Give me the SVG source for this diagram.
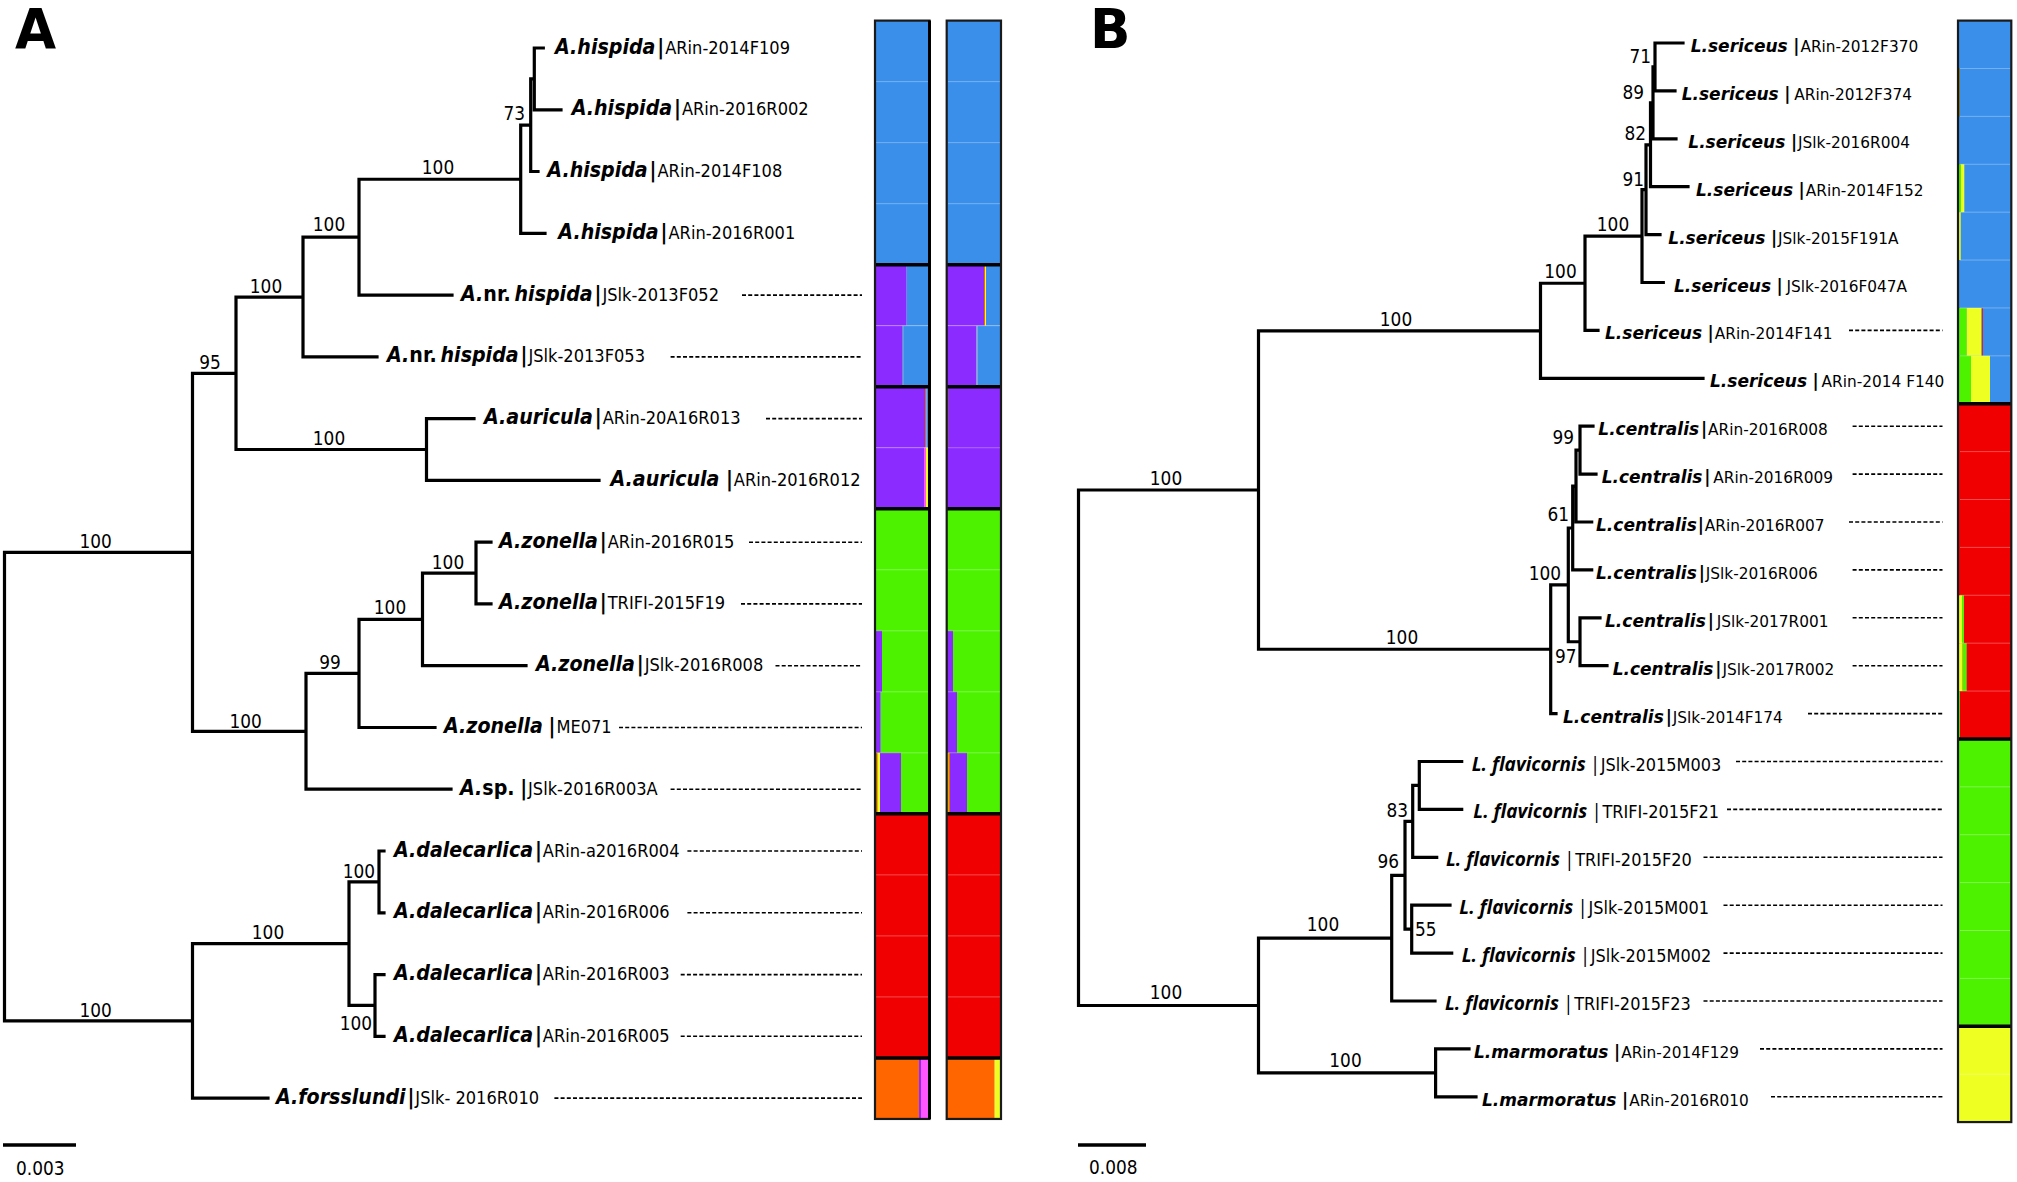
<svg xmlns="http://www.w3.org/2000/svg" width="2017" height="1182" viewBox="0 0 2017 1182">
<style>
.tr{fill:none;stroke:#000;stroke-width:3.2;stroke-linecap:square}
.sb{fill:none;stroke:#000;stroke-width:3.5}
.dash{fill:none;stroke:#000;stroke-width:1.6;stroke-dasharray:4 2.2}
text{font-family:"DejaVu Sans",sans-serif;fill:#000}
.la{font-size:17.5px}
.na{font-size:20.5px;font-weight:bold;font-style:italic}
.lb{font-size:16.5px}
.lf{font-size:17px}
.nb{font-size:18.3px;font-weight:bold;font-style:italic}
.up{font-style:normal}
.fn{font-family:"Open Sans","DejaVu Sans",sans-serif;font-size:20px;font-weight:bold;font-style:italic}
.fb{font-family:"Open Sans","DejaVu Sans",sans-serif;font-size:20px;font-style:italic}
.s{font-size:19.5px}
.pl{font-size:56px;font-weight:bold}
.bl{fill:#3A8FEA}.pu{fill:#8B2BFF}.gr{fill:#4CF200}.rd{fill:#F00000}.or{fill:#FF6600}.pk{fill:#FF55FF}.ye{fill:#EEFF22}.gy{fill:#7D82D8}.ol{fill:#8A7A20}.br{fill:#C86A3A}
.sep{stroke:#000;stroke-width:3.5}
.fine{stroke:#fff;stroke-opacity:.3;stroke-width:1}
.box{fill:none;stroke:#1a1a1a;stroke-width:2.2}
</style>

<!-- panel labels -->
<text class="pl" transform="translate(15,48) scale(.95,1)">A</text>
<text class="pl" transform="translate(1090,48) scale(.95,1)">B</text>

<!-- connectors -->
<g id="connectors">
<path class="tr" d="M4.5 552.3V1020.9M4.5 552.3H192.5M4.5 1020.9H192.5
M192.5 373.3V731.3M192.5 373.3H236M192.5 731.3H306
M236 297.05V449.5M236 297.05H303M236 449.5H426.5
M303 237.2V356.9M303 237.2H359M303 356.9H377
M359 179.25V295.1M359 179.25H520.7M359 295.1H452
M520.7 125.2V233.3M520.7 125.2H530.7M520.7 233.3H545
M530.7 78.9V171.5M530.7 78.9H534.3M530.7 171.5H538
M534.3 48V109.8M534.3 48H543.3M534.3 109.8H561
M426.5 418.6V480.4M426.5 418.6H474M426.5 480.4H599
M306 673.45V789.2M306 673.45H359M306 789.2H451
M359 619.4V727.5M359 619.4H422.5M359 727.5H435
M422.5 573.05V665.7M422.5 573.05H476M422.5 665.7H526
M476 542.2V603.9M476 542.2H491M476 603.9H491
M192.5 943.7V1098.1M192.5 943.7H349M192.5 1098.1H268
M349 881.9V1005.45M349 881.9H379M349 1005.45H375
M379 851V912.8M379 851H384M379 912.8H384
M375 974.6V1036.3M375 974.6H384M375 1036.3H384"/>
<path class="tr" d="M1078.5 490V1005.5M1078.5 490H1258.5M1078.5 1005.5H1258.5
M1258.5 330.8V649.25M1258.5 330.8H1540.5M1258.5 649.25H1550.7
M1540.5 283.25V378.3M1540.5 283.25H1585M1540.5 378.3H1703
M1585 236.1V330.4M1585 236.1H1642M1585 330.4H1598
M1642 189.7V282.5M1642 189.7H1646M1642 282.5H1663.3
M1646 144.8V234.6M1646 144.8H1650.5M1646 234.6H1660
M1650.5 102.9V186.7M1650.5 102.9H1653M1650.5 186.7H1688
M1653 66.95V138.8M1653 66.95H1655M1653 138.8H1676
M1655 43V90.9M1655 43H1683M1655 90.9H1675
M1550.7 584.9V713.6M1550.7 584.9H1568.3M1550.7 713.6H1556
M1568.3 528V641.75M1568.3 528H1572.7M1568.3 641.75H1580
M1580 617.8V665.7M1580 617.8H1600M1580 665.7H1607
M1572.7 486.1V569.9M1572.7 486.1H1576M1572.7 569.9H1591.7
M1576 450.15V522M1576 450.15H1580M1576 522H1591.7
M1580 426.2V474.1M1580 426.2H1593M1580 474.1H1596
M1258.5 938.15V1072.85M1258.5 938.15H1391.7M1258.5 1072.85H1435.6
M1391.7 875.3V1001M1391.7 875.3H1405M1391.7 1001H1435
M1405 821.4V929.15M1405 821.4H1412.7M1405 929.15H1411.7
M1412.7 785.45V857.3M1412.7 785.45H1419.3M1412.7 857.3H1436.7
M1419.3 761.5V809.4M1419.3 761.5H1461.7M1419.3 809.4H1461.7
M1411.7 905.2V953.1M1411.7 905.2H1450M1411.7 953.1H1451.7
M1435.6 1048.9V1096.8M1435.6 1048.9H1469M1435.6 1096.8H1476"/>
<path class="dash" d="M742 295.1H862M670.6 356.9H862M766 418.6H862M749 542.2H862M741 603.9H862M775.5 665.7H862M619 727.5H862M670.6 789.2H862M687.4 851H862M687.4 912.8H862M680.7 974.6H862M680.7 1036.3H862M554.4 1098.1H862"/>
<path class="dash" d="M1849 330.4H1942.5M1852.6 426.2H1942.5M1852.6 474.1H1942.5M1849 522H1942.5M1852.6 569.9H1942.5M1852.6 617.8H1942.5M1852.6 665.7H1942.5M1808 713.6H1942.5M1736 761.5H1942.5M1727 809.4H1942.5M1703.5 857.3H1942.5M1723.5 905.2H1942.5M1723.5 953.1H1942.5M1703.5 1001H1942.5M1760 1048.9H1942.5M1771 1096.8H1942.5"/>
</g>

<!-- support values -->
<g id="support">
<text class="s" text-anchor="end" transform="translate(525,120) scale(.87,1)">73</text>
<text class="s" text-anchor="middle" transform="translate(438,174) scale(.87,1)">100</text>
<text class="s" text-anchor="middle" transform="translate(329,231) scale(.87,1)">100</text>
<text class="s" text-anchor="middle" transform="translate(266,293) scale(.87,1)">100</text>
<text class="s" text-anchor="middle" transform="translate(210,369) scale(.87,1)">95</text>
<text class="s" text-anchor="middle" transform="translate(329,445) scale(.87,1)">100</text>
<text class="s" text-anchor="middle" transform="translate(95.7,547.5) scale(.87,1)">100</text>
<text class="s" text-anchor="middle" transform="translate(448,569) scale(.87,1)">100</text>
<text class="s" text-anchor="middle" transform="translate(390,614) scale(.87,1)">100</text>
<text class="s" text-anchor="middle" transform="translate(330,669) scale(.87,1)">99</text>
<text class="s" text-anchor="middle" transform="translate(245.6,728) scale(.87,1)">100</text>
<text class="s" text-anchor="end" transform="translate(375,878) scale(.87,1)">100</text>
<text class="s" text-anchor="middle" transform="translate(268,939) scale(.87,1)">100</text>
<text class="s" text-anchor="end" transform="translate(372,1030) scale(.87,1)">100</text>
<text class="s" text-anchor="middle" transform="translate(95.7,1017) scale(.87,1)">100</text>
<text class="s" text-anchor="end" transform="translate(1651,63.3) scale(.87,1)">71</text>
<text class="s" text-anchor="end" transform="translate(1644,99) scale(.87,1)">89</text>
<text class="s" text-anchor="end" transform="translate(1646,140) scale(.87,1)">82</text>
<text class="s" text-anchor="end" transform="translate(1644,186) scale(.87,1)">91</text>
<text class="s" text-anchor="middle" transform="translate(1613,231) scale(.87,1)">100</text>
<text class="s" text-anchor="middle" transform="translate(1560.5,278) scale(.87,1)">100</text>
<text class="s" text-anchor="middle" transform="translate(1396,325.5) scale(.87,1)">100</text>
<text class="s" text-anchor="middle" transform="translate(1166,485) scale(.87,1)">100</text>
<text class="s" text-anchor="end" transform="translate(1574,444) scale(.87,1)">99</text>
<text class="s" text-anchor="end" transform="translate(1569,521) scale(.87,1)">61</text>
<text class="s" text-anchor="end" transform="translate(1561,580) scale(.87,1)">100</text>
<text class="s" transform="translate(1555,663) scale(.87,1)">97</text>
<text class="s" text-anchor="middle" transform="translate(1402,644) scale(.87,1)">100</text>
<text class="s" text-anchor="end" transform="translate(1408,817) scale(.87,1)">83</text>
<text class="s" text-anchor="end" transform="translate(1399,868) scale(.87,1)">96</text>
<text class="s" transform="translate(1415,936) scale(.87,1)">55</text>
<text class="s" text-anchor="middle" transform="translate(1323,931) scale(.87,1)">100</text>
<text class="s" text-anchor="middle" transform="translate(1345.5,1067) scale(.87,1)">100</text>
<text class="s" text-anchor="middle" transform="translate(1166,999) scale(.87,1)">100</text>
</g>

<!-- scale bars -->
<g id="scaleA"><path class="sb" d="M3 1145H76"/><text class="s" transform="translate(16,1175) scale(.87,1)">0.003</text></g>
<g id="scaleB"><path class="sb" d="M1078 1145H1146"/><text class="s" transform="translate(1089,1174) scale(.87,1)">0.008</text></g>

<!-- panel A leaves -->
<g id="a0"><text transform="translate(555,53.5) scale(.93,1)"><tspan class="na">A.hispida</tspan><tspan class="na" dx="2">|</tspan><tspan class="la" dx="1">ARin-2014F109</tspan></text></g>
<g id="a1"><text transform="translate(571.7,115.3) scale(.93,1)"><tspan class="na">A.hispida</tspan><tspan class="na" dx="2">|</tspan><tspan class="la" dx="1">ARin-2016R002</tspan></text></g>
<g id="a2"><text transform="translate(547.3,177) scale(.93,1)"><tspan class="na">A.hispida</tspan><tspan class="na" dx="2">|</tspan><tspan class="la" dx="1">ARin-2014F108</tspan></text></g>
<g id="a3"><text transform="translate(558.3,238.8) scale(.93,1)"><tspan class="na">A.hispida</tspan><tspan class="na" dx="2">|</tspan><tspan class="la" dx="1">ARin-2016R001</tspan></text></g>
<g id="a4"><text transform="translate(461,300.6) scale(.93,1)"><tspan class="na">A.</tspan><tspan class="na up">nr.</tspan><tspan class="na" dx="4">hispida</tspan><tspan class="na" dx="2">|</tspan><tspan class="la" dx="1">JSlk-2013F052</tspan></text></g>
<g id="a5"><text transform="translate(387,362.4) scale(.93,1)"><tspan class="na">A.</tspan><tspan class="na up">nr.</tspan><tspan class="na" dx="4">hispida</tspan><tspan class="na" dx="2">|</tspan><tspan class="la" dx="1">JSlk-2013F053</tspan></text></g>
<g id="a6"><text transform="translate(484,424.1) scale(.93,1)"><tspan class="na">A.auricula</tspan><tspan class="na" dx="2">|</tspan><tspan class="la" dx="1">ARin-20A16R013</tspan></text></g>
<g id="a7"><text transform="translate(610.5,485.9) scale(.93,1)"><tspan class="na">A.auricula</tspan><tspan class="na" dx="7">|</tspan><tspan class="la" dx="1">ARin-2016R012</tspan></text></g>
<g id="a8"><text transform="translate(499,547.7) scale(.93,1)"><tspan class="na">A.zonella</tspan><tspan class="na" dx="2">|</tspan><tspan class="la" dx="1">ARin-2016R015</tspan></text></g>
<g id="a9"><text transform="translate(499,609.4) scale(.93,1)"><tspan class="na">A.zonella</tspan><tspan class="na" dx="2">|</tspan><tspan class="la" dx="1">TRIFI-2015F19</tspan></text></g>
<g id="a10"><text transform="translate(536,671.2) scale(.93,1)"><tspan class="na">A.zonella</tspan><tspan class="na" dx="2">|</tspan><tspan class="la" dx="1">JSlk-2016R008</tspan></text></g>
<g id="a11"><text transform="translate(444,733) scale(.93,1)"><tspan class="na">A.zonella</tspan><tspan class="na" dx="6">|</tspan><tspan class="la" dx="1">ME071</tspan></text></g>
<g id="a12"><text transform="translate(460,794.7) scale(.93,1)"><tspan class="na">A.</tspan><tspan class="na up">sp.</tspan><tspan class="na" dx="6">|</tspan><tspan class="la" dx="1">JSlk-2016R003A</tspan></text></g>
<g id="a13"><text transform="translate(394,856.5) scale(.93,1)"><tspan class="na">A.dalecarlica</tspan><tspan class="na" dx="2">|</tspan><tspan class="la" dx="1">ARin-a2016R004</tspan></text></g>
<g id="a14"><text transform="translate(394,918.3) scale(.93,1)"><tspan class="na">A.dalecarlica</tspan><tspan class="na" dx="2">|</tspan><tspan class="la" dx="1">ARin-2016R006</tspan></text></g>
<g id="a15"><text transform="translate(394,980.1) scale(.93,1)"><tspan class="na">A.dalecarlica</tspan><tspan class="na" dx="2">|</tspan><tspan class="la" dx="1">ARin-2016R003</tspan></text></g>
<g id="a16"><text transform="translate(394,1041.8) scale(.93,1)"><tspan class="na">A.dalecarlica</tspan><tspan class="na" dx="2">|</tspan><tspan class="la" dx="1">ARin-2016R005</tspan></text></g>
<g id="a17"><text transform="translate(276,1103.6) scale(.93,1)"><tspan class="na">A.forsslundi</tspan><tspan class="na" dx="2">|</tspan><tspan class="la" dx="1">JSlk- 2016R010</tspan></text></g>

<!-- panel B leaves -->
<g id="b0"><text transform="translate(1690.7,52) scale(.93,1)"><tspan class="nb">L.sericeus</tspan><tspan class="nb" dx="6">|</tspan><tspan class="lb" dx="1">ARin-2012F370</tspan></text></g>
<g id="b1"><text transform="translate(1681.7,99.9) scale(.93,1)"><tspan class="nb">L.sericeus</tspan><tspan class="nb" dx="6">|</tspan><tspan class="lb" dx="4">ARin-2012F374</tspan></text></g>
<g id="b2"><text transform="translate(1688.3,147.8) scale(.93,1)"><tspan class="nb">L.sericeus</tspan><tspan class="nb" dx="6">|</tspan><tspan class="lb" dx="1">JSlk-2016R004</tspan></text></g>
<g id="b3"><text transform="translate(1696,195.7) scale(.93,1)"><tspan class="nb">L.sericeus</tspan><tspan class="nb" dx="6">|</tspan><tspan class="lb" dx="1">ARin-2014F152</tspan></text></g>
<g id="b4"><text transform="translate(1668.3,243.6) scale(.93,1)"><tspan class="nb">L.sericeus</tspan><tspan class="nb" dx="6">|</tspan><tspan class="lb" dx="1">JSlk-2015F191A</tspan></text></g>
<g id="b5"><text transform="translate(1674,291.5) scale(.93,1)"><tspan class="nb">L.sericeus</tspan><tspan class="nb" dx="6">|</tspan><tspan class="lb" dx="4">JSlk-2016F047A</tspan></text></g>
<g id="b6"><text transform="translate(1605,339.4) scale(.93,1)"><tspan class="nb">L.sericeus</tspan><tspan class="nb" dx="6">|</tspan><tspan class="lb" dx="1">ARin-2014F141</tspan></text></g>
<g id="b7"><text transform="translate(1710,387.3) scale(.93,1)"><tspan class="nb">L.sericeus</tspan><tspan class="nb" dx="6">|</tspan><tspan class="lb" dx="3">ARin-2014 F140</tspan></text></g>
<g id="b8"><text transform="translate(1598.3,435.2) scale(.93,1)"><tspan class="nb">L.centralis</tspan><tspan class="nb" dx="2">|</tspan><tspan class="lb" dx="1">ARin-2016R008</tspan></text></g>
<g id="b9"><text transform="translate(1601.7,483.1) scale(.93,1)"><tspan class="nb">L.centralis</tspan><tspan class="nb" dx="2">|</tspan><tspan class="lb" dx="3">ARin-2016R009</tspan></text></g>
<g id="b10"><text transform="translate(1596,531) scale(.93,1)"><tspan class="nb">L.centralis</tspan><tspan class="nb" dx="1">|</tspan><tspan class="lb" dx="1">ARin-2016R007</tspan></text></g>
<g id="b11"><text transform="translate(1596,578.9) scale(.93,1)"><tspan class="nb">L.centralis</tspan><tspan class="nb" dx="2">|</tspan><tspan class="lb" dx="1">JSlk-2016R006</tspan></text></g>
<g id="b12"><text transform="translate(1605,626.8) scale(.93,1)"><tspan class="nb">L.centralis</tspan><tspan class="nb" dx="2">|</tspan><tspan class="lb" dx="3">JSlk-2017R001</tspan></text></g>
<g id="b13"><text transform="translate(1612.7,674.7) scale(.93,1)"><tspan class="nb">L.centralis</tspan><tspan class="nb" dx="2">|</tspan><tspan class="lb" dx="1">JSlk-2017R002</tspan></text></g>
<g id="b14"><text transform="translate(1563,722.6) scale(.93,1)"><tspan class="nb">L.centralis</tspan><tspan class="nb" dx="2">|</tspan><tspan class="lb" dx="1">JSlk-2014F174</tspan></text></g>
<g id="b15"><text transform="translate(1471.7,770.5) scale(.95,1)"><tspan class="fn">L. flavicornis</tspan><tspan class="fb" dx="4">|</tspan><tspan class="lf" dx="1">JSlk-2015M003</tspan></text></g>
<g id="b16"><text transform="translate(1473.3,818.4) scale(.95,1)"><tspan class="fn">L. flavicornis</tspan><tspan class="fb" dx="4">|</tspan><tspan class="lf" dx="1">TRIFI-2015F21</tspan></text></g>
<g id="b17"><text transform="translate(1446,866.3) scale(.95,1)"><tspan class="fn">L. flavicornis</tspan><tspan class="fb" dx="4">|</tspan><tspan class="lf" dx="1">TRIFI-2015F20</tspan></text></g>
<g id="b18"><text transform="translate(1459.3,914.2) scale(.95,1)"><tspan class="fn">L. flavicornis</tspan><tspan class="fb" dx="4">|</tspan><tspan class="lf" dx="1">JSlk-2015M001</tspan></text></g>
<g id="b19"><text transform="translate(1461.7,962.1) scale(.95,1)"><tspan class="fn">L. flavicornis</tspan><tspan class="fb" dx="4">|</tspan><tspan class="lf" dx="1">JSlk-2015M002</tspan></text></g>
<g id="b20"><text transform="translate(1445,1010) scale(.95,1)"><tspan class="fn">L. flavicornis</tspan><tspan class="fb" dx="4">|</tspan><tspan class="lf" dx="1">TRIFI-2015F23</tspan></text></g>
<g id="b21"><text transform="translate(1474,1057.9) scale(.93,1)"><tspan class="nb">L.marmoratus</tspan><tspan class="nb" dx="6">|</tspan><tspan class="lb" dx="1">ARin-2014F129</tspan></text></g>
<g id="b22"><text transform="translate(1482,1105.8) scale(.93,1)"><tspan class="nb">L.marmoratus</tspan><tspan class="nb" dx="6">|</tspan><tspan class="lb" dx="1">ARin-2016R010</tspan></text></g>

<!-- bar A1 -->
<g id="barA1">
<rect class="bl" x="875" y="20.6" width="54.5" height="244.08"/>
<rect class="pu" x="875" y="264.68" width="31.7" height="61.02"/><rect class="bl" x="906.7" y="264.68" width="22.8" height="61.02"/>
<rect class="pu" x="875" y="325.7" width="27" height="61.02"/><rect class="gy" x="902" y="325.7" width="1.2" height="61.02"/><rect class="bl" x="903.2" y="325.7" width="26.3" height="61.02"/>
<rect class="pu" x="875" y="386.72" width="50" height="61.02"/><rect class="br" x="925" y="386.72" width="1.5" height="61.02"/><rect class="bl" x="926.5" y="386.72" width="3" height="61.02"/>
<rect class="pu" x="875" y="447.74" width="49" height="61.02"/><rect class="pk" x="924" y="447.74" width="2" height="61.02"/><rect class="ye" x="926" y="447.74" width="2.5" height="61.02"/><rect class="or" x="928.5" y="447.74" width="1" height="61.02"/>
<rect class="gr" x="875" y="508.76" width="54.5" height="305.1"/>
<rect class="pu" x="875" y="630.8" width="7" height="61.02"/>
<rect class="pu" x="875" y="691.82" width="5" height="61.02"/><rect class="gy" x="880" y="691.82" width="1" height="61.02"/>
<rect class="or" x="875" y="752.84" width="1.5" height="61.02"/><rect class="rd" x="876.5" y="752.84" width="1" height="61.02"/><rect class="ye" x="877.5" y="752.84" width="2.5" height="61.02"/><rect class="pu" x="880" y="752.84" width="21" height="61.02"/>
<rect class="rd" x="875" y="813.86" width="54.5" height="244.08"/>
<rect class="or" x="875" y="1057.94" width="44" height="61.02"/><rect class="pu" x="919" y="1057.94" width="2" height="61.02"/><rect class="pk" x="921" y="1057.94" width="8.5" height="61.02"/>
<path class="fine" d="M876 81.62H929M876 142.64H929M876 203.66H929M876 325.7H929M876 447.74H929M876 569.78H929M876 630.8H929M876 691.82H929M876 752.84H929M876 874.88H929M876 935.9H929M876 996.92H929"/>
<path class="sep" d="M875 264.68H929.5M875 386.72H929.5M875 508.76H929.5M875 813.86H929.5M875 1057.94H929.5"/>
<rect class="box" x="875" y="20.6" width="54.5" height="1098.36"/>
<path d="M929.5 20.6V1119" stroke="#000" stroke-width="3"/>
</g>

<!-- bar A2 -->
<g id="barA2">
<rect class="bl" x="946.7" y="20.6" width="54.3" height="244.08"/>
<rect class="pu" x="946.7" y="264.68" width="37.3" height="61.02"/><rect class="or" x="984" y="264.68" width="1" height="61.02"/><rect class="ye" x="985" y="264.68" width="1" height="61.02"/><rect class="bl" x="986" y="264.68" width="15" height="61.02"/>
<rect class="pu" x="946.7" y="325.7" width="29.6" height="61.02"/><rect class="gy" x="976.3" y="325.7" width="1.3" height="61.02"/><rect class="bl" x="977.6" y="325.7" width="23.4" height="61.02"/>
<rect class="pu" x="946.7" y="386.72" width="54.3" height="122.04"/><rect class="ol" x="946.7" y="386.72" width="1.6" height="61.02"/>
<rect class="gr" x="946.7" y="508.76" width="54.3" height="305.1"/>
<rect class="pu" x="946.7" y="630.8" width="6.3" height="61.02"/>
<rect class="pu" x="946.7" y="691.82" width="10.3" height="61.02"/>
<rect class="ye" x="946.7" y="752.84" width="1.8" height="61.02"/><rect class="or" x="948.5" y="752.84" width="1.5" height="61.02"/><rect class="pu" x="950" y="752.84" width="17" height="61.02"/>
<rect class="rd" x="946.7" y="813.86" width="54.3" height="244.08"/>
<rect class="or" x="946.7" y="1057.94" width="48" height="61.02"/><rect class="ye" x="994.7" y="1057.94" width="6.3" height="61.02"/>
<path class="fine" d="M948 81.62H1000M948 142.64H1000M948 203.66H1000M948 325.7H1000M948 447.74H1000M948 569.78H1000M948 630.8H1000M948 691.82H1000M948 752.84H1000M948 874.88H1000M948 935.9H1000M948 996.92H1000"/>
<path class="sep" d="M946.7 264.68H1001M946.7 386.72H1001M946.7 508.76H1001M946.7 813.86H1001M946.7 1057.94H1001"/>
<rect class="box" x="946.7" y="20.6" width="54.3" height="1098.36"/>
</g>

<!-- bar B -->
<g id="barB">
<rect class="bl" x="1959" y="20.6" width="52.3" height="383.12"/>
<rect class="ol" x="1959" y="68.49" width="1" height="47.89"/>
<rect class="gr" x="1959" y="164.27" width="2" height="47.89"/><rect class="ye" x="1961" y="164.27" width="3.3" height="47.89"/>
<rect class="ye" x="1959" y="212.16" width="1.7" height="47.89"/>
<rect class="gr" x="1959" y="307.94" width="7.7" height="47.89"/><rect class="ye" x="1966.7" y="307.94" width="15" height="47.89"/><rect class="rd" x="1981.7" y="307.94" width="1" height="47.89"/>
<rect class="gr" x="1959" y="355.83" width="12" height="47.89"/><rect class="ye" x="1971" y="355.83" width="19" height="47.89"/>
<rect class="rd" x="1959" y="403.72" width="52.3" height="335.23"/>
<rect class="ye" x="1959" y="595.28" width="3" height="47.89"/><rect class="gr" x="1962" y="595.28" width="2" height="47.89"/>
<rect class="ye" x="1959" y="643.17" width="3.7" height="47.89"/><rect class="gr" x="1962.7" y="643.17" width="4" height="47.89"/>
<rect class="gr" x="1959" y="691.06" width="1" height="47.89"/>
<rect class="gr" x="1959" y="738.95" width="52.3" height="287.34"/>
<rect class="ye" x="1959" y="1026.29" width="52.3" height="95.78"/>
<path class="fine" d="M1960 68.49H2010M1960 116.38H2010M1960 164.27H2010M1960 212.16H2010M1960 260.05H2010M1960 307.94H2010M1960 355.83H2010M1960 451.61H2010M1960 499.5H2010M1960 547.39H2010M1960 595.28H2010M1960 643.17H2010M1960 691.06H2010M1960 786.84H2010M1960 834.73H2010M1960 882.62H2010M1960 930.51H2010M1960 978.4H2010M1960 1074.18H2010"/>
<path class="sep" d="M1959 403.72H2011.3M1959 738.95H2011.3M1959 1026.29H2011.3"/>
<rect class="box" x="1958" y="20.6" width="53.3" height="1101.47"/>
</g>
</svg>
